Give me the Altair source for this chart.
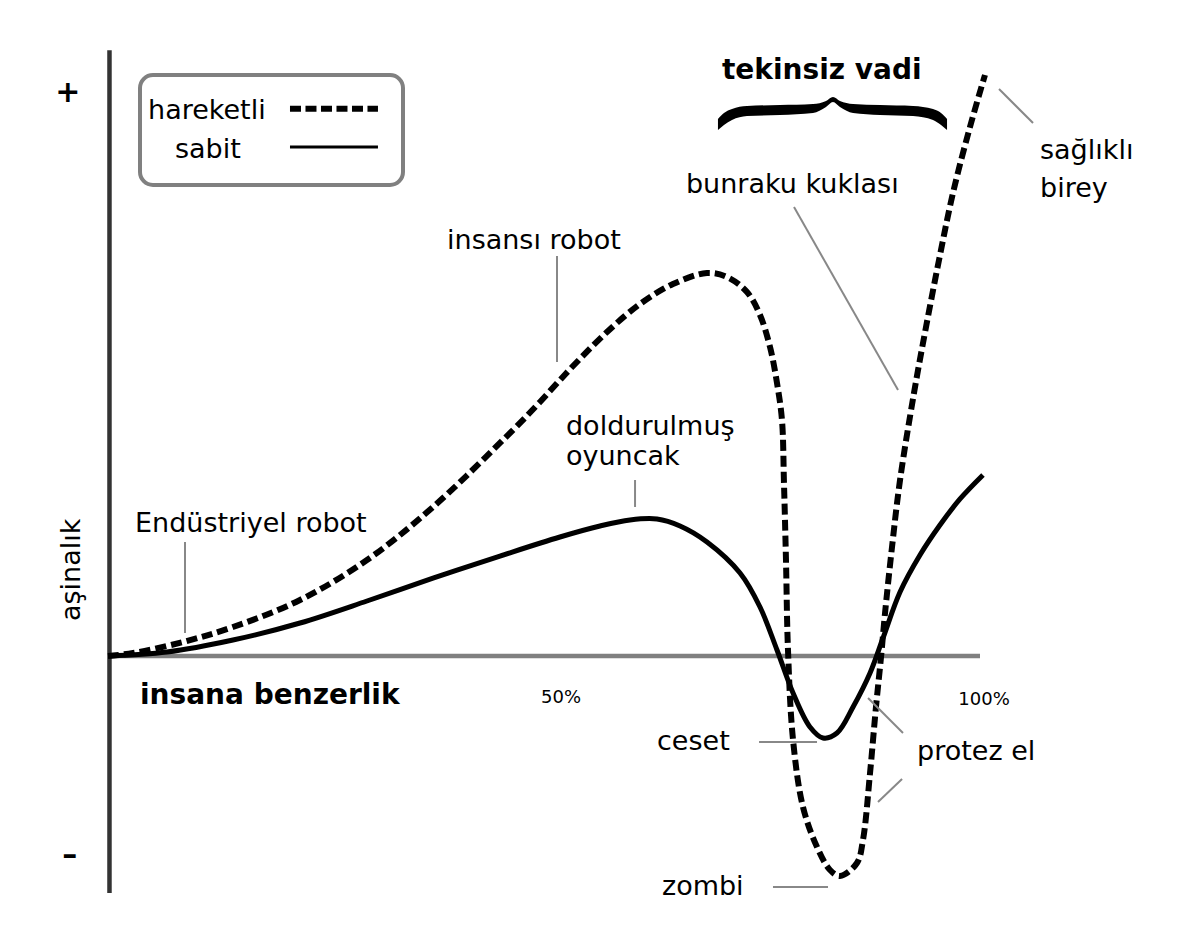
import altair as alt
import pandas as pd

# ---- curves: x = human likeness (%), y = familiarity (arbitrary units) ----
moving_x = [0.00, 2.87, 8.60, 14.33, 22.02, 29.70, 37.27, 46.44, 49.54, 51.83, 53.33, 57.22,
            61.01, 64.79, 68.69, 70.99, 73.28, 74.77, 75.92, 76.72, 77.29, 77.52, 77.75, 77.98,
            78.56, 79.70, 81.31, 82.80, 83.94, 85.89, 86.58, 87.39, 88.07, 88.65, 89.11, 89.91,
            90.83, 92.43, 93.81, 95.30, 96.90, 98.85, 100.57]
moving_y = [0.00, 0.53, 2.49, 5.15, 9.95, 17.05, 26.47, 40.14, 45.12, 49.02, 51.51, 57.55,
            62.52, 66.07, 68.03, 67.32, 64.65, 60.57, 54.88, 48.49, 41.92, 30.73, 17.05, 1.07,
            -14.92, -26.82, -33.93, -38.01, -39.08, -36.77, -32.68, -20.78, -9.06, -0.18, 7.64, 19.36,
            31.26, 46.71, 58.44, 70.34, 82.24, 93.96, 103.20]

still_x = [0.00, 6.77, 14.33, 22.02, 29.70, 37.27, 44.95, 51.83, 56.42, 59.86, 62.96, 65.60,
           68.69, 72.48, 74.77, 76.72, 78.56, 80.50, 82.00, 83.60, 85.44, 87.39, 88.88, 90.83,
           93.12, 95.41, 97.71, 100.34]
still_y = [0.00, 0.71, 2.84, 5.86, 9.77, 13.85, 17.76, 21.14, 23.09, 24.16, 24.33, 23.09,
           20.25, 14.74, 8.70, 1.07, -6.57, -12.61, -14.56, -13.68, -9.06, -3.02, 3.20, 11.37,
           17.94, 23.27, 27.89, 32.15]

# ---- annotation texts (regular) ----
lab_text = ["insansı robot", "doldurulmuş", "oyuncak", "Endüstriyel robot", "bunraku kuklası",
            "sağlıklı", "birey", "ceset", "protez el", "zombi"]
lab_x = [38.88, 52.52, 52.52, 3.10, 66.28, 106.88, 106.88, 62.96, 92.78, 63.53]
lab_y = [72.3, 39.3, 33.9, 22.0, 82.2, 88.3, 81.5, -16.7, -18.5, -42.5]

# bold texts
bold_text = ["tekinsiz vadi", "insana benzerlik"]
bold_x = [70.41, 3.67]
bold_y = [102.5, -8.5]

# tick labels
tick_text = ["50%", "100%"]
tick_x = [51.95, 100.46]
tick_y = [-8.3, -8.7]

# +/- markers
sign_text = ["+", "–"]
sign_x = [-4.6, -4.4]
sign_y = [100.0, -35.3]

# leader lines
lead_x = [51.49, 60.44, 8.83, 78.67, 102.18, 74.66, 76.26, 87.16, 88.30]
lead_y = [71.05, 31.26, 20.25, 79.75, 100.71, -15.28, -41.03, -7.46, -25.93]
lead_x2 = [51.49, 60.44, 8.83, 90.60, 106.08, 81.31, 82.57, 91.17, 91.06]
lead_y2 = [52.22, 26.47, 4.09, 47.25, 94.67, -15.28, -41.03, -13.68, -21.85]

# brace (upper / lower edge)
brace_x = [69.95, 70.64, 71.56, 73.28, 77.06, 80.85, 82.34, 83.14, 83.94, 85.44, 88.53, 92.32,
           94.61, 95.53, 96.22]
brace_top = [95.38, 96.45, 97.16, 97.69, 97.87, 98.05, 98.58, 99.29, 98.58, 98.05, 97.87, 97.69,
             97.16, 96.45, 95.38]
brace_bot = [93.43, 94.32, 95.20, 95.91, 96.09, 96.45, 97.51, 98.40, 97.51, 96.45, 96.09, 95.91,
             95.20, 94.32, 93.43]

# legend
legend_labels = ["hareketli", "sabit"]
legend_label_x = [4.59, 7.68]
legend_label_y = [95.4, 88.5]
legend_box = dict(x=3.67, x2=33.83, y=103.2, y2=83.66)
legend_sym_x = [20.87, 20.87]
legend_sym_x2 = [30.96, 30.96]
legend_sym_y = [97.2, 90.4]

X_DOMAIN = [-11.468, 124.312]
Y_DOMAIN = [-48.49, 115.10]
FONT = "DejaVu Sans"

xs = alt.Scale(domain=X_DOMAIN, nice=False, zero=False)
ys = alt.Scale(domain=Y_DOMAIN, nice=False, zero=False)


def X(f="x"):
    return alt.X(f"{f}:Q", scale=xs, axis=None)


def Y(f="y"):
    return alt.Y(f"{f}:Q", scale=ys, axis=None)


moving = pd.DataFrame({"x": moving_x, "y": moving_y})
still = pd.DataFrame({"x": still_x, "y": still_y})

# axes
vaxis = alt.Chart(pd.DataFrame({"x": [0.17], "y": [107.6], "y2": [-42.1]})).mark_rule(
    color="#333333", strokeWidth=4.5).encode(x=X(), y=Y(), y2="y2:Q")
haxis = alt.Chart(pd.DataFrame({"x": [0.0], "x2": [100.0], "y": [0.0]})).mark_rule(
    color="#808080", strokeWidth=4.5).encode(x=X(), x2="x2:Q", y=Y())

still_line = alt.Chart(still).mark_line(
    color="black", strokeWidth=5, interpolate="catmull-rom").encode(x=X(), y=Y())
moving_line = alt.Chart(moving).mark_line(
    color="black", strokeWidth=6, strokeDash=[11, 5], interpolate="catmull-rom").encode(x=X(), y=Y())

leaders = alt.Chart(pd.DataFrame({"x": lead_x, "y": lead_y, "x2": lead_x2, "y2": lead_y2})).mark_rule(
    color="#888888", strokeWidth=2).encode(x=X(), y=Y(), x2="x2:Q", y2="y2:Q")

labels = alt.Chart(pd.DataFrame({"t": lab_text, "x": lab_x, "y": lab_y})).mark_text(
    font=FONT, fontSize=27, align="left", baseline="alphabetic", color="black").encode(
    x=X(), y=Y(), text="t:N")

bolds = alt.Chart(pd.DataFrame({"t": bold_text, "x": bold_x, "y": bold_y})).mark_text(
    font=FONT, fontSize=28, fontWeight="bold", align="left", baseline="alphabetic", color="black").encode(
    x=X(), y=Y(), text="t:N")

ticks = alt.Chart(pd.DataFrame({"t": tick_text, "x": tick_x, "y": tick_y})).mark_text(
    font=FONT, fontSize=18, align="center", baseline="alphabetic", color="black").encode(
    x=X(), y=Y(), text="t:N")

signs = alt.Chart(pd.DataFrame({"t": sign_text, "x": sign_x, "y": sign_y})).mark_text(
    font=FONT, fontSize=30, fontWeight="bold", align="center", baseline="middle", color="black").encode(
    x=X(), y=Y(), text="t:N")

ylabel = alt.Chart(pd.DataFrame({"t": ["aşinalık"], "x": [-3.21], "y": [15.3]})).mark_text(
    font=FONT, fontSize=27, angle=270, align="center", baseline="alphabetic", color="black").encode(
    x=X(), y=Y(), text="t:N")

brace = alt.Chart(pd.DataFrame({"x": brace_x, "y": brace_top, "y2": brace_bot})).mark_area(
    color="black", interpolate="monotone").encode(x=X(), y=Y(), y2="y2:Q")

lbox = alt.Chart(pd.DataFrame({k: [v] for k, v in legend_box.items()})).mark_rect(
    cornerRadius=13, fill="white", stroke="#808080", strokeWidth=4).encode(
    x=X(), x2="x2:Q", y=Y(), y2="y2:Q")

lsym_dash = alt.Chart(pd.DataFrame({"x": [legend_sym_x[0]], "x2": [legend_sym_x2[0]], "y": [legend_sym_y[0]]})).mark_rule(
    color="black", strokeWidth=6, strokeDash=[11, 4.5]).encode(x=X(), x2="x2:Q", y=Y())
lsym_solid = alt.Chart(pd.DataFrame({"x": [legend_sym_x[1]], "x2": [legend_sym_x2[1]], "y": [legend_sym_y[1]]})).mark_rule(
    color="black", strokeWidth=3).encode(x=X(), x2="x2:Q", y=Y())
ltext = alt.Chart(pd.DataFrame({"t": legend_labels, "x": legend_label_x, "y": legend_label_y})).mark_text(
    font=FONT, fontSize=27, align="left", baseline="alphabetic", color="black").encode(
    x=X(), y=Y(), text="t:N")

chart = alt.layer(
    haxis, vaxis, still_line, moving_line, leaders, labels, bolds, ticks, signs, ylabel, brace,
    lbox, lsym_dash, lsym_solid, ltext
).properties(
    width=1184, height=921, autosize=alt.AutoSizeParams(type="none"), padding=0,
    background="white"
).configure_view(strokeWidth=0)

chart.save("out.html", embed_options={"renderer": "svg", "actions": False})
